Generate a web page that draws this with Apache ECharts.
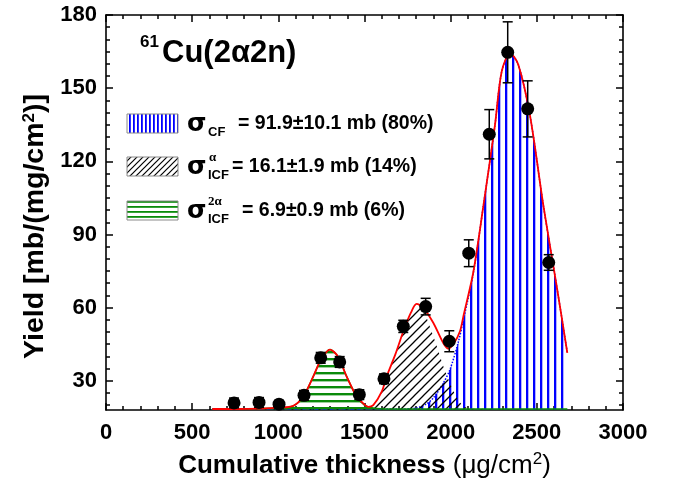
<!DOCTYPE html>
<html>
<head>
<meta charset="utf-8">
<script src="https://cdn.jsdelivr.net/npm/echarts@6/dist/echarts.min.js"></script>
<style>
  html, body { margin: 0; padding: 0; background: #fff; }
  #chart { width: 676px; height: 486px; }
</style>
</head>
<body>
<div id="chart"></div>
<script>
// Measured yields of 61Cu(2a2n) versus cumulative thickness of the stack
const thickness = [743, 888, 1004, 1149, 1246, 1356, 1470, 1613, 1725, 1855, 1992, 2105, 2224, 2331, 2447, 2569];
const yieldMb   = [20.9, 21.1, 20.4, 24.0, 39.4, 37.7, 24.3, 30.8, 52.3, 60.4, 46.2, 82.3, 131.1, 164.7, 141.5, 78.5];
const yieldErr  = [2.0, 2.0, 1.5, 2.0, 2.2, 2.2, 2.0, 2.0, 2.5, 3.4, 4.3, 5.5, 10.1, 12.5, 11.5, 3.2];

// Total fitted profile (red)
const fitX = [617, 750, 900, 1000, 1087, 1145, 1203, 1250, 1300, 1345, 1396, 1454, 1500, 1522, 1551, 1600, 1629, 1680, 1729, 1770, 1802, 1840, 1899, 1957, 1986, 2020, 2054, 2074, 2131, 2190, 2257, 2296, 2345, 2393, 2460, 2538, 2615, 2677];
const fitY = [18.4, 18.4, 18.6, 19.0, 19.7, 23.6, 31.8, 39.0, 42.8, 40.0, 31.8, 23.6, 20.2, 19.3, 20.0, 25.5, 31.8, 41.0, 51.0, 58.0, 61.5, 60.0, 53.8, 45.5, 43.2, 45.5, 50.3, 56.5, 74.4, 101.8, 134.8, 156.8, 164.3, 159.5, 138.9, 101.8, 68.9, 41.4];

// Complete-fusion component (blue)
const cfX = [617, 1700, 1800, 1860, 1900, 1957, 1996, 2045, 2074, 2131, 2190, 2257, 2296, 2345, 2393, 2460, 2538, 2615, 2677];
const cfY = [18.4, 18.4, 18.8, 20.5, 23.0, 29.0, 34.6, 46.0, 55.0, 74.0, 101.8, 134.8, 156.8, 164.3, 159.5, 138.9, 101.8, 68.9, 41.4];

// Incomplete-fusion component, alpha (black hatch)
const icfAX = [617, 1450, 1522, 1551, 1600, 1629, 1680, 1729, 1770, 1802, 1840, 1880, 1920, 1957, 1996, 2040, 2080, 2120, 2677];
const icfAY = [18.4, 18.4, 19.2, 20.0, 25.5, 31.5, 41.0, 50.8, 57.5, 61.0, 59.0, 52.0, 44.0, 36.0, 29.0, 22.5, 19.3, 18.5, 18.4];

// Incomplete-fusion component, 2 alpha (green)
const icf2X = [617, 1000, 1087, 1145, 1203, 1250, 1300, 1345, 1396, 1454, 1500, 1550, 1650, 2677];
const icf2Y = [18.4, 18.8, 19.7, 23.6, 31.8, 39.0, 42.8, 40.0, 31.8, 23.6, 20.0, 18.8, 18.4, 18.4];

// Axis ticks
const yMajorTicks = [30, 60, 90, 120, 150, 180];
const yMinorTicks = [20, 25, 35, 40, 45, 50, 55, 65, 70, 75, 80, 85, 95, 100, 105, 110, 115, 125, 130, 135, 140, 145, 155, 160, 165, 170, 175];

// Legend texts
const legendValues = ['= 91.9\u00b110.1 mb (80%)', '= 16.1\u00b11.9 mb (14%)', '= 6.9\u00b10.9 mb (6%)'];

const FONT = '"Liberation Sans", Arial, Helvetica, sans-serif';
const SERIF = '"Liberation Serif", "Times New Roman", serif';

function pattern(w, h, draw) {
  const c = document.createElement('canvas');
  c.width = w; c.height = h;
  draw(c.getContext('2d'));
  return { image: c, repeat: 'repeat' };
}
function vLines(w, h, lw, color) {
  return pattern(w, h, ctx => { ctx.fillStyle = color; ctx.fillRect(1, 0, lw, h); });
}
function hLines(w, h, lw, color) {
  return pattern(w, h, ctx => { ctx.fillStyle = color; ctx.fillRect(0, 1, w, lw); });
}
function diag(s, lw) {
  return pattern(s, s, ctx => {
    ctx.strokeStyle = '#000'; ctx.lineWidth = lw;
    ctx.beginPath();
    ctx.moveTo(0, s); ctx.lineTo(s, 0);
    ctx.moveTo(-2, 2); ctx.lineTo(2, -2);
    ctx.moveTo(s - 2, s + 2); ctx.lineTo(s + 2, s - 2);
    ctx.stroke();
  });
}

const BLUE = '#0000ff', GREEN = '#0a8a0a';
const blueFill = vLines(7, 4, 2.3, BLUE);
const greenFill = hLines(4, 7, 2.4, GREEN);
const blackFill = diag(9, 1.3);
const blueSwatch = vLines(4, 4, 1.8, BLUE);
const greenSwatch = hLines(4, 5, 1.8, GREEN);
const blackSwatch = diag(6, 1.2);

const zip = (xs, ys) => xs.map((x, i) => [x, ys[i]]);

const tickFont = { fontFamily: FONT, fontWeight: 'bold', fontSize: 22, color: '#000' };
const axisLine = { show: true, lineStyle: { color: '#000', width: 1.6 } };
const supStyle = { fontFamily: FONT, fontWeight: 'bold', fontSize: 17, color: '#000', padding: [0, 0, 12, 0] };

function yAxisDef(position, major, withLabels) {
  return {
    type: 'value', min: 18, max: 180, position: position,
    axisLine: major ? axisLine : { show: false },
    axisTick: { show: true, inside: true, length: major ? 7 : 4, lineStyle: { color: '#000', width: 1.5 },
                customValues: major ? yMajorTicks : yMinorTicks },
    axisLabel: withLabels ? Object.assign({ show: true, margin: 9, customValues: yMajorTicks,
                formatter: v => String(v) }, tickFont) : { show: false },
    splitLine: { show: false },
    name: withLabels ? '{b|Yield [mb/(mg/cm}{s|2}{b|)]}' : '',
    nameLocation: 'middle', nameRotate: 90, nameGap: 54,
    nameTextStyle: { color: '#000', padding: [0, 28, 0, 0],
      rich: { b: { fontFamily: FONT, fontWeight: 'bold', fontSize: 28.5, color: '#000' }, s: supStyle } }
  };
}
function xAxisDef(position, withLabels) {
  return {
    type: 'value', min: 0, max: 3000, interval: 500, position: position,
    axisLine: axisLine,
    axisTick: { show: true, inside: true, length: 7, lineStyle: { color: '#000', width: 1.5 } },
    minorTick: { show: true, splitNumber: 5, length: 4, lineStyle: { color: '#000', width: 1.5 } },
    axisLabel: withLabels ? Object.assign({ show: true, margin: 12, formatter: v => String(v) }, tickFont) : { show: false },
    splitLine: { show: false }, minorSplitLine: { show: false },
    name: withLabels ? '{b|Cumulative thickness }{r|(\u03bcg/cm}{s|2}{r|)}' : '',
    nameLocation: 'middle', nameGap: 41,
    nameTextStyle: { color: '#000',
      rich: { b: { fontFamily: FONT, fontWeight: 'bold', fontSize: 26, color: '#000' },
              r: { fontFamily: FONT, fontWeight: 'normal', fontSize: 26, color: '#000' },
              s: Object.assign({}, supStyle, { fontWeight: 'normal' }) } }
  };
}

const chart = echarts.init(document.getElementById('chart'), null, { renderer: 'canvas' });

function legendRow(y, fill, sup, sub, value, supX, valueX) {
  const items = [
    { type: 'rect', shape: { x: 127, y: y - 10, width: 51, height: 19 },
      style: { fill: fill, stroke: '#8a8a8a', lineWidth: 1 } },
    { type: 'text', x: 187, y: y, style: { text: '\u03c3', font: 'bold 25px ' + '"DejaVu Sans", ' + FONT, fill: '#000', verticalAlign: 'middle' } },
    { type: 'text', x: 208, y: y + 8, style: { text: sub, font: 'bold 13px ' + FONT, fill: '#000', verticalAlign: 'middle' } },
    { type: 'text', x: valueX, y: y, style: { text: value, font: 'bold 19.5px ' + FONT, fill: '#000', verticalAlign: 'middle' } }
  ];
  if (sup) {
    items.push({ type: 'text', x: supX, y: y - 9, style: { text: sup, font: 'bold 13px ' + SERIF, fill: '#000', verticalAlign: 'middle' } });
  }
  return items;
}

const option = {
  animation: false,
  backgroundColor: '#fff',
  grid: { left: 106, right: 53, top: 15, bottom: 76 },
  xAxis: [xAxisDef('bottom', true), xAxisDef('top', false)],
  yAxis: [yAxisDef('left', true, true), yAxisDef('left', false, false),
          yAxisDef('right', true, false), yAxisDef('right', false, false)],
  series: [
    { name: 'CF', type: 'line', data: zip(cfX, cfY), smooth: 0.3, symbol: 'none', z: 1,
      lineStyle: { color: BLUE, type: 'dotted', width: 1.5 },
      areaStyle: { color: blueFill, origin: 'start', opacity: 1 } },
    { name: 'ICF alpha', type: 'line', data: zip(icfAX, icfAY), smooth: 0.3, symbol: 'none', z: 2,
      lineStyle: { width: 0, opacity: 0 },
      areaStyle: { color: blackFill, origin: 'start', opacity: 1 } },
    { name: 'ICF 2alpha', type: 'line', data: zip(icf2X, icf2Y), smooth: 0.3, symbol: 'none', z: 3,
      lineStyle: { color: GREEN, width: 1.5 },
      areaStyle: { color: greenFill, origin: 'start', opacity: 1 } },
    { name: 'Fit', type: 'line', data: zip(fitX, fitY), smooth: 0.3, symbol: 'none', z: 4,
      lineStyle: { color: '#ff0000', width: 1.8 } },
    { name: 'Error', type: 'custom', z: 5,
      data: thickness.map((x, i) => [x, yieldMb[i], yieldErr[i]]),
      renderItem: function (params, api) {
        const x = api.value(0), y = api.value(1), e = api.value(2);
        const top = api.coord([x, y + e]);
        const bot = api.coord([x, y - e]);
        const cap = 5;
        const st = { stroke: '#000', lineWidth: 1.5 };
        return { type: 'group', children: [
          { type: 'line', shape: { x1: top[0], y1: top[1], x2: bot[0], y2: bot[1] }, style: st },
          { type: 'line', shape: { x1: top[0] - cap, y1: top[1], x2: top[0] + cap, y2: top[1] }, style: st },
          { type: 'line', shape: { x1: bot[0] - cap, y1: bot[1], x2: bot[0] + cap, y2: bot[1] }, style: st }
        ] };
      } },
    { name: 'Data', type: 'scatter', z: 6, data: zip(thickness, yieldMb),
      symbol: 'circle', symbolSize: 13, itemStyle: { color: '#000', opacity: 1 } }
  ],
  graphic: [].concat(
    [
      { type: 'text', x: 140, y: 42, style: { text: '61', font: 'bold 17px ' + FONT, fill: '#000', verticalAlign: 'middle' } },
      { type: 'text', x: 162, y: 53, style: { text: 'Cu(2\u03b12n)', font: 'bold 31px ' + FONT, fill: '#000', verticalAlign: 'middle' } }
    ],
    legendRow(124, blueSwatch, null, 'CF', legendValues[0], 0, 238),
    legendRow(167, blackSwatch, '\u03b1', 'ICF', legendValues[1], 209, 232),
    legendRow(211, greenSwatch, '2\u03b1', 'ICF', legendValues[2], 208, 242)
  )
};

chart.setOption(option);
</script>
</body>
</html>
